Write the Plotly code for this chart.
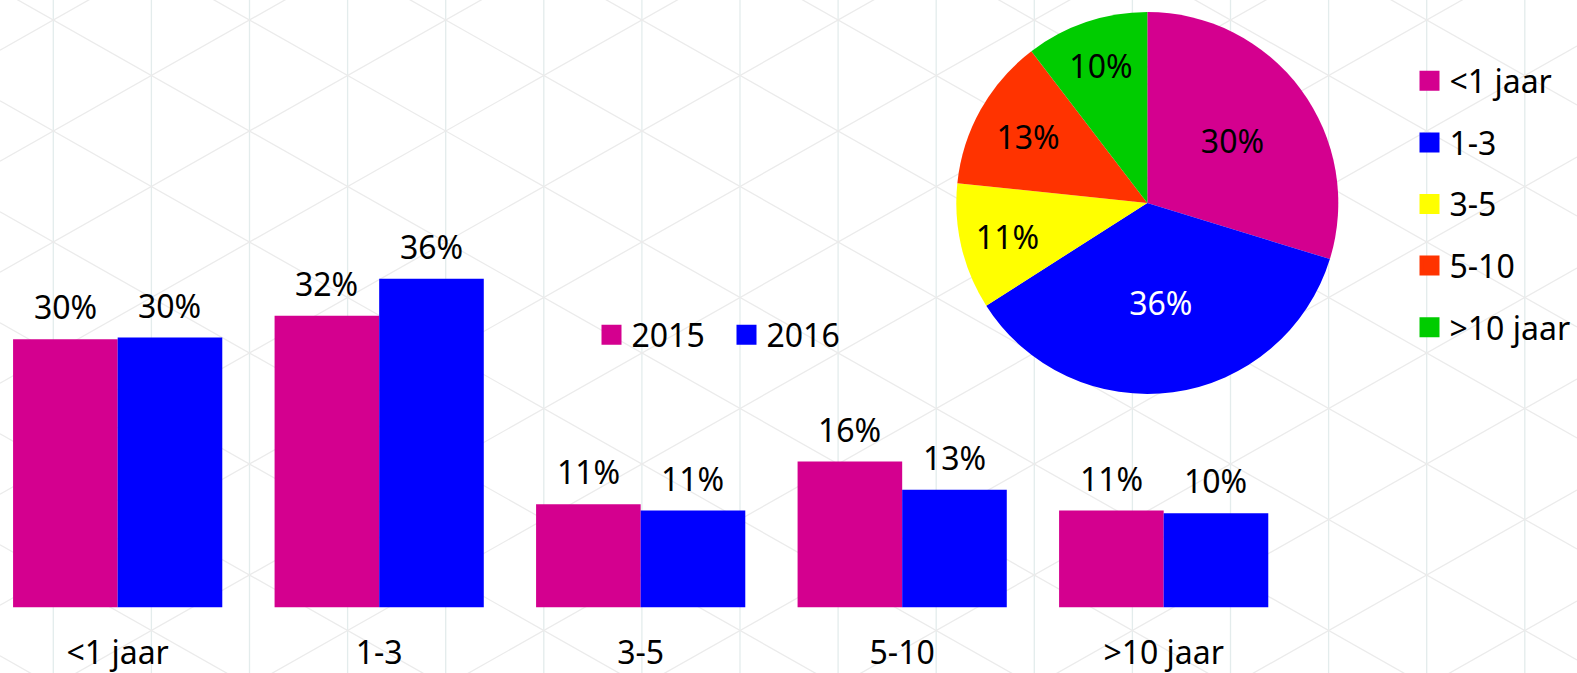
import plotly.graph_objects as go

# ---------------- data ----------------
CATEGORIES = ["<1 jaar", "1-3", "3-5", "5-10", ">10 jaar"]
SERIES_NAMES = ["2015", "2016"]
SHARE_2015 = [29.6, 32.2, 11.4, 16.1, 10.7]
SHARE_2016 = [29.8, 36.3, 10.7, 13.0, 10.4]
PIE_SHARE = SHARE_2016  # pie shows the 2016 distribution

BAR_COLORS = ["#d4008f", "#0000ff"]
PIE_COLORS = ["#d4008f", "#0000ff", "#ffff00", "#ff3300", "#00cc00"]
PIE_TEXT_COLORS = ["#000000", "#ffffff", "#000000", "#000000", "#000000"]

W, H = 1577, 673
FONT = "Noto Sans"
FS = 32

fig = go.Figure()

# ---------------- bars ----------------
for name, vals, col in zip(SERIES_NAMES, [SHARE_2015, SHARE_2016], BAR_COLORS):
    fig.add_trace(go.Bar(x=CATEGORIES, y=vals, name=name, marker=dict(color=col, line=dict(width=0)),
                         showlegend=False, hoverinfo="x+y"))

# legend entries for bars (legend 1)
for name, col in zip(SERIES_NAMES, BAR_COLORS):
    fig.add_trace(go.Scatter(x=[None], y=[None], mode="markers", name=name,
                             marker=dict(symbol="square", size=16, color=col, line=dict(color=col, width=4)),
                             legend="legend", legendgroup="b" + name, showlegend=True))

# ---------------- pie ----------------
fig.add_trace(go.Pie(labels=CATEGORIES, values=PIE_SHARE, sort=False, direction="clockwise", rotation=0,
                     marker=dict(colors=PIE_COLORS, line=dict(width=0)),
                     texttemplate="%{value:.0f}%", textposition="inside", insidetextorientation="horizontal",
                     textfont=dict(family=FONT, size=FS, color=PIE_TEXT_COLORS),
                     domain=dict(x=[956 / W, 1338.6 / W], y=[1 - 394 / H, 1 - 12 / H]),
                     showlegend=False))

# legend entries for pie (legend 2)
for name, col in zip(CATEGORIES, PIE_COLORS):
    fig.add_trace(go.Scatter(x=[None], y=[None], mode="markers", name=name,
                             marker=dict(symbol="square", size=16, color=col, line=dict(color=col, width=4)),
                             legend="legend2", legendgroup="p" + name, showlegend=True))

# ---------------- value labels above bars ----------------
GROUP_PX = 261.5
HALF = GROUP_PX * 0.8 / 4
annotations = []
for s, vals in enumerate([SHARE_2015, SHARE_2016]):
    for c, v in zip(CATEGORIES, vals):
        annotations.append(dict(x=c, y=v, xref="x", yref="y", text=f"{v:.0f}%", showarrow=False,
                                xshift=(-HALF if s == 0 else HALF), yanchor="bottom", yshift=9,
                                font=dict(family=FONT, size=FS, color="#000000")))

# ---------------- background pattern ----------------
shapes = []
X0, DX, Y0, PER = 53.3, 98.1, 20.0, 111.0
SLOPE = (PER / 2) / DX
k = 0
while X0 + k * DX < W:
    x = X0 + k * DX
    shapes.append(dict(type="line", xref="paper", yref="paper", x0=x / W, x1=x / W, y0=0, y1=1,
                       line=dict(color="#e3ecec", width=1.3), layer="below"))
    k += 1
for sign in (1, -1):
    for j in range(-20, 21):
        ya = Y0 + j * PER + sign * SLOPE * (0 - X0)
        yb = Y0 + j * PER + sign * SLOPE * (W - X0)
        if max(ya, yb) < 0 or min(ya, yb) > H:
            continue
        shapes.append(dict(type="line", xref="paper", yref="paper", x0=0, x1=1,
                           y0=1 - ya / H, y1=1 - yb / H,
                           line=dict(color="#ebebeb", width=1.3), layer="below"))

fig.update_layout(
    width=W, height=H,
    margin=dict(l=0, r=0, t=0, b=0),
    paper_bgcolor="#ffffff", plot_bgcolor="rgba(0,0,0,0)",
    font=dict(family=FONT, size=FS, color="#000000"),
    barmode="group", bargap=0.2, bargroupgap=0,
    xaxis=dict(domain=[0, 5 * GROUP_PX / W], range=[-0.45, 4.55], type="category",
               showgrid=False, zeroline=False, showline=False, ticks="", automargin=False,
               tickfont=dict(family=FONT, size=FS, color="#000000"), ticklabelstandoff=24),
    yaxis=dict(domain=[1 - 607.4 / H, 1 - (607.4 - 40 * 9.056) / H], range=[0, 40],
               visible=False, showgrid=False, zeroline=False, automargin=False),
    legend=dict(orientation="h", x=591.5 / W, y=1 - 335 / H, xanchor="left", yanchor="middle",
                entrywidth=90,
                bgcolor="rgba(0,0,0,0)", borderwidth=0, font=dict(family=FONT, size=FS, color="#000000"),
                itemclick=False, itemdoubleclick=False),
    legend2=dict(orientation="v", x=1409.5 / W, y=1 - 53.5 / H, xanchor="left", yanchor="top",
                 bgcolor="rgba(0,0,0,0)", borderwidth=0, tracegroupgap=17,
                 font=dict(family=FONT, size=FS, color="#000000"),
                 itemclick=False, itemdoubleclick=False),
    annotations=annotations,
    shapes=shapes,
)

fig.write_html("out.html", config={"displayModeBar": False},
               post_script="document.body.style.margin='0';document.body.style.overflow='hidden';")
